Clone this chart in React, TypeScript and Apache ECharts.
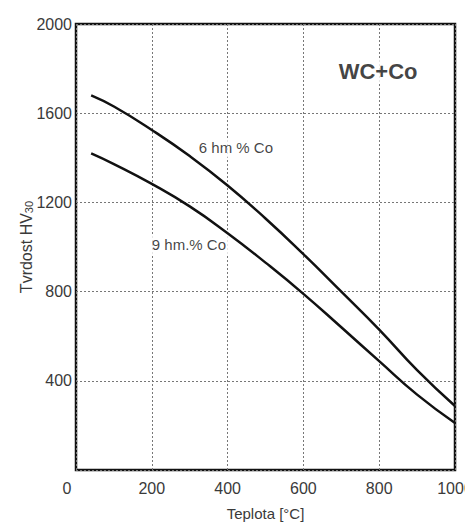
import React, { useEffect, useRef } from "react";
import * as echarts from "echarts";

const temps6 = [40, 100, 200, 300, 400, 500, 600, 700, 800, 900, 1000];
const hv6 = [1680, 1630, 1525, 1408, 1276, 1128, 968, 800, 630, 448, 287];
const temps9 = [40, 100, 200, 300, 400, 500, 600, 700, 800, 900, 1000];
const hv9 = [1420, 1372, 1283, 1182, 1062, 930, 790, 640, 488, 338, 211];
const labels = [
  { t: 422, hv: 1444, text: "6 hm % Co", size: 15, weight: "normal" },
  { t: 298, hv: 1009, text: "9 hm.% Co", size: 15, weight: "normal" },
  { t: 797, hv: 1789, text: "WC+Co", size: 22, weight: "bold" },
];

const FONT = "'Liberation Sans', Arial, sans-serif";

export default function App() {
  const ref = useRef<HTMLDivElement>(null);
  useEffect(() => {
    if (!ref.current) return;
    const chart = echarts.init(ref.current, null, { renderer: "svg" });
    const line = (t: number[], v: number[]) => ({
      type: "line",
      data: t.map((x, i) => [x, v[i]]),
      smooth: true,
      symbol: "none",
      lineStyle: { color: "#111", width: 2.5 },
      z: 3,
    });
    chart.setOption({
      animation: false,
      backgroundColor: "#fff",
      grid: {
        left: 76,
        right: 10,
        top: 24,
        bottom: 54,
        outerBoundsMode: "none",
        containLabel: false,
        show: true,
        borderColor: "#111",
        borderWidth: 2.5,
        backgroundColor: "transparent",
      },
      xAxis: {
        type: "value",
        min: 0,
        max: 1000,
        interval: 200,
        axisLine: { show: false },
        axisTick: { show: false },
        axisLabel: {
          color: "#3a3a3a",
          fontSize: 16,
          fontFamily: FONT,
          margin: 10,
          formatter: (v: number) => (v === 0 ? "{z|0}" : String(v)),
          rich: {
            z: { color: "#3a3a3a", fontSize: 16, fontFamily: FONT, padding: [0, 18, 0, 0] },
          },
        },
        splitLine: { show: true, lineStyle: { color: "#777", type: [2, 2], width: 1 } },
        name: "Teplota [°C]",
        nameLocation: "middle",
        nameGap: 36,
        nameMoveOverlap: false,
        nameTextStyle: { color: "#3a3a3a", fontSize: 15, fontFamily: FONT },
      },
      yAxis: {
        type: "value",
        min: 0,
        max: 2000,
        interval: 400,
        axisLine: { show: false },
        axisTick: { show: false },
        axisLabel: {
          color: "#3a3a3a",
          fontSize: 16,
          fontFamily: FONT,
          margin: 4,
          formatter: (v: number) => (v === 0 ? "" : String(v)),
        },
        splitLine: { show: true, lineStyle: { color: "#777", type: [2, 2], width: 1 } },
        name: "{a|Tvrdost HV}{b|30}",
        nameLocation: "middle",
        nameRotate: 90,
        nameGap: 42,
        nameMoveOverlap: false,
        nameTextStyle: {
          rich: {
            a: { color: "#3a3a3a", fontSize: 16, fontFamily: FONT, lineHeight: 20, verticalAlign: "bottom" },
            b: { color: "#3a3a3a", fontSize: 11, fontFamily: FONT, lineHeight: 20, verticalAlign: "bottom", padding: [6, 0, 0, 0] },
          },
        },
      },
      series: [
        line(temps6, hv6),
        line(temps9, hv9),
        {
          type: "scatter",
          symbolSize: 0,
          z: 2,
          data: labels.map((l) => ({
            value: [l.t, l.hv],
            label: {
              show: true,
              position: "inside",
              formatter: l.text,
              color: "#111",
              fontSize: l.size,
              fontWeight: l.weight,
              fontFamily: FONT,
              backgroundColor: "#fff",
              padding: [2, 2],
            },
          })),
        },
      ],
    });
    return () => chart.dispose();
  }, []);
  return <div ref={ref} style={{ width: 465, height: 524, position: "absolute", left: 0, top: 0 }} />;
}
